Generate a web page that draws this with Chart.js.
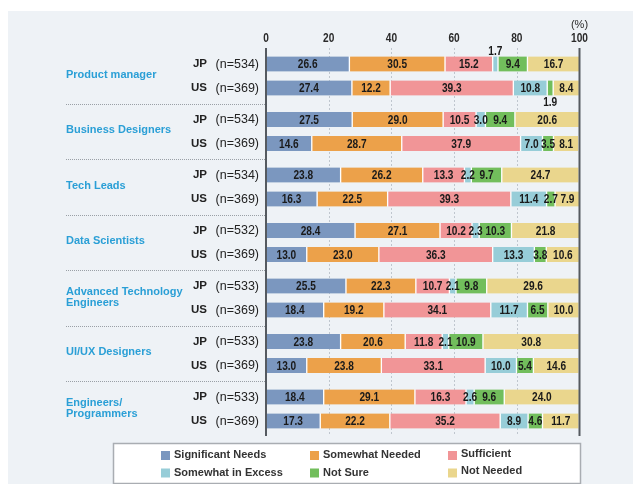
<!DOCTYPE html>
<html>
<head>
<meta charset="utf-8">
<script src="https://cdn.jsdelivr.net/npm/chart.js@4.4.0/dist/chart.umd.min.js"></script>
<style>
  html, body { margin: 0; padding: 0; background: #fff; }
  canvas { display: block; }
</style>
</head>
<body>
<canvas id="chart" width="633" height="484"></canvas>
<script>
// job categories, each has a JP row and a US row
const groups = [
  ['Product manager'],
  ['Business Designers'],
  ['Tech Leads'],
  ['Data Scientists'],
  ['Advanced Technology', 'Engineers'],
  ['UI/UX Designers'],
  ['Engineers/', 'Programmers']
];
const countries = ['JP', 'US'];
const sampleJP = [534, 534, 534, 532, 533, 533, 533];
const sampleUS = [369, 369, 369, 369, 369, 369, 369];
const xTicks = [0, 20, 40, 60, 80, 100];

const seriesNames = ['Significant Needs', 'Somewhat Needed', 'Sufficient', 'Somewhat in Excess', 'Not Sure', 'Not Needed'];
const seriesColors = ['#7b97bf', '#eca14a', '#f19597', '#97cdd8', '#72be5c', '#ead68d'];

// rows: JP, US for each group in order
const significantNeeds = [26.6, 27.4, 27.5, 14.6, 23.8, 16.3, 28.4, 13.0, 25.5, 18.4, 23.8, 13.0, 18.4, 17.3];
const somewhatNeeded   = [30.5, 12.2, 29.0, 28.7, 26.2, 22.5, 27.1, 23.0, 22.3, 19.2, 20.6, 23.8, 29.1, 22.2];
const sufficient       = [15.2, 39.3, 10.5, 37.9, 13.3, 39.3, 10.2, 36.3, 10.7, 34.1, 11.8, 33.1, 16.3, 35.2];
const somewhatInExcess = [1.7, 10.8, 3.0, 7.0, 2.2, 11.4, 2.3, 13.3, 2.1, 11.7, 2.1, 10.0, 2.6, 8.9];
const notSure          = [9.4, 1.9, 9.4, 3.5, 9.7, 2.7, 10.3, 3.8, 9.8, 6.5, 10.9, 5.4, 9.6, 4.6];
const notNeeded        = [16.7, 8.4, 20.6, 8.1, 24.7, 7.9, 21.8, 10.6, 29.6, 10.0, 30.8, 14.6, 24.0, 11.7];

const allSeries = [significantNeeds, somewhatNeeded, sufficient, somewhatInExcess, notSure, notNeeded];

// row position on the y scale (1 unit = the JP/US step)
const GROUP_STEP = 2.3125;
function rowPos(i) {
  return Math.floor(i / 2) * GROUP_STEP + (i % 2);
}

const SANS = "'Liberation Sans', Arial, sans-serif";

// condensed text: squeeze horizontally
function narrowText(ctx, text, x, y, squeeze) {
  ctx.save();
  ctx.translate(x, y);
  ctx.scale(squeeze, 1);
  ctx.fillText(text, 0, 0);
  ctx.restore();
}

const datasets = allSeries.map(function (vals, s) {
  return {
    label: seriesNames[s],
    data: vals.map(function (v, i) { return { x: v, y: rowPos(i) }; }),
    backgroundColor: seriesColors[s],
    borderColor: '#ffffff',
    borderWidth: { left: 1, right: 1, top: 0, bottom: 0 },
    borderSkipped: false,
    barThickness: 15
  };
});

const panelBg = {
  id: 'panelBg',
  beforeDraw(chart) {
    const ctx = chart.ctx;
    ctx.save();
    ctx.fillStyle = '#ffffff';
    ctx.fillRect(0, 0, chart.width, chart.height);
    ctx.fillStyle = '#eef2f6';
    ctx.fillRect(8, 11, chart.width - 8, chart.height - 11);
    ctx.restore();
  }
};

const gridLines = {
  id: 'gridLines',
  beforeDatasetsDraw(chart) {
    const ctx = chart.ctx, xs = chart.scales.x, a = chart.chartArea;
    ctx.save();
    ctx.strokeStyle = '#bfc6ce';
    ctx.lineWidth = 1;
    ctx.setLineDash([2, 2]);
    xTicks.forEach(function (t) {
      if (t === 0 || t === 100) return;
      const px = Math.round(xs.getPixelForValue(t)) + 0.5;
      ctx.beginPath();
      ctx.moveTo(px, a.top);
      ctx.lineTo(px, a.bottom);
      ctx.stroke();
    });
    ctx.restore();
  },
  afterDatasetsDraw(chart) {
    const ctx = chart.ctx, xs = chart.scales.x, a = chart.chartArea;
    ctx.save();
    ctx.strokeStyle = '#555a60';
    ctx.lineWidth = 2;
    [0, 100].forEach(function (t) {
      const px = xs.getPixelForValue(t);
      ctx.beginPath();
      ctx.moveTo(px, a.top);
      ctx.lineTo(px, a.bottom);
      ctx.stroke();
    });
    // tick labels on top
    ctx.fillStyle = '#2a2a2a';
    ctx.font = 'bold 13px ' + SANS;
    ctx.textAlign = 'center';
    ctx.textBaseline = 'middle';
    xTicks.forEach(function (t) {
      narrowText(ctx, String(t), xs.getPixelForValue(t), 38, 0.78);
    });
    ctx.font = '11px ' + SANS;
    ctx.fillText('(%)', xs.getPixelForValue(100), 25);
    ctx.restore();
  }
};

const valueLabels = {
  id: 'valueLabels',
  afterDatasetsDraw(chart) {
    const ctx = chart.ctx;
    ctx.save();
    ctx.fillStyle = '#1a1a1a';
    ctx.font = 'bold 13.5px ' + SANS;
    ctx.textAlign = 'center';
    ctx.textBaseline = 'middle';
    chart.data.datasets.forEach(function (ds, s) {
      const meta = chart.getDatasetMeta(s);
      meta.data.forEach(function (bar, i) {
        const v = allSeries[s][i];
        const cx = (bar.x + bar.base) / 2;
        let cy = bar.y + 0.5;
        if (v < 2) {
          cy = (i % 2 === 0) ? bar.y - 13 : bar.y + 14;
        }
        narrowText(ctx, v.toFixed(1), cx, cy, 0.75);
      });
    });
    ctx.restore();
  }
};

const sideLabels = {
  id: 'sideLabels',
  afterDraw(chart) {
    const ctx = chart.ctx, ys = chart.scales.y, xs = chart.scales.x;
    const x0 = xs.getPixelForValue(0);
    ctx.save();
    ctx.textBaseline = 'middle';
    groups.forEach(function (lines, g) {
      const yJP = ys.getPixelForValue(rowPos(g * 2));
      const yUS = ys.getPixelForValue(rowPos(g * 2 + 1));
      const mid = (yJP + yUS) / 2;

      // job category
      ctx.fillStyle = '#2a9fd6';
      ctx.font = 'bold 11px ' + SANS;
      ctx.textAlign = 'left';
      if (lines.length === 1) {
        ctx.fillText(lines[0], 66, mid - 1.5);
      } else {
        ctx.fillText(lines[0], 66, mid - 6.5);
        ctx.fillText(lines[1], 66, mid + 4.5);
      }

      // country + sample size
      [[yJP, countries[0], sampleJP[g]], [yUS, countries[1], sampleUS[g]]].forEach(function (r) {
        ctx.fillStyle = '#222';
        ctx.textAlign = 'right';
        ctx.font = 'bold 11.5px ' + SANS;
        ctx.fillText(r[1], 207, r[0]);
        ctx.font = '12.5px ' + SANS;
        ctx.fillText('(n=' + r[2] + ')', 259, r[0] + 0.5);
      });

      // dotted separator under each group but the last
      if (g < groups.length - 1) {
        const sy = Math.round(mid + (ys.getPixelForValue(GROUP_STEP) - ys.getPixelForValue(0)) / 2) + 0.5;
        ctx.strokeStyle = '#9aa0a6';
        ctx.lineWidth = 1;
        ctx.setLineDash([1, 1]);
        ctx.beginPath();
        ctx.moveTo(66, sy);
        ctx.lineTo(x0, sy);
        ctx.stroke();
        ctx.setLineDash([]);
      }
    });
    ctx.restore();
  }
};

const boxLegend = {
  id: 'boxLegend',
  afterDraw(chart) {
    const ctx = chart.ctx;
    ctx.save();
    ctx.fillStyle = '#ffffff';
    ctx.fillRect(113.5, 443.5, 467, 40);
    ctx.strokeStyle = '#a9adb2';
    ctx.lineWidth = 1.5;
    ctx.strokeRect(113.5, 443.5, 467, 40);
    const colX = [161, 310, 448];
    const rowY = [455, 472.5];
    ctx.font = 'bold 11px ' + SANS;
    ctx.textAlign = 'left';
    ctx.textBaseline = 'middle';
    chart.data.datasets.forEach(function (ds, s) {
      const x = colX[s % 3];
      const y = rowY[Math.floor(s / 3)];
      ctx.fillStyle = ds.backgroundColor;
      ctx.fillRect(x, y - 4, 9, 9);
      ctx.fillStyle = '#333';
      ctx.fillText(ds.label, x + 13, (s % 3 === 2) ? y - 1.5 : y);
    });
    ctx.restore();
  }
};

new Chart(document.getElementById('chart'), {
  type: 'bar',
  data: { datasets: datasets },
  options: {
    indexAxis: 'y',
    responsive: false,
    animation: false,
    devicePixelRatio: 1,
    layout: { padding: { left: 266, right: 53.5, top: 48, bottom: 48 } },
    scales: {
      x: { type: 'linear', min: 0, max: 100, stacked: true, display: false, offset: false },
      y: { type: 'linear', reverse: true, stacked: true, display: false, offset: false,
           min: -16 / 24, max: (388 - 16) / 24 }
    },
    plugins: {
      legend: { display: false },
      tooltip: { enabled: false }
    }
  },
  plugins: [panelBg, gridLines, valueLabels, sideLabels, boxLegend]
});
</script>
</body>
</html>
